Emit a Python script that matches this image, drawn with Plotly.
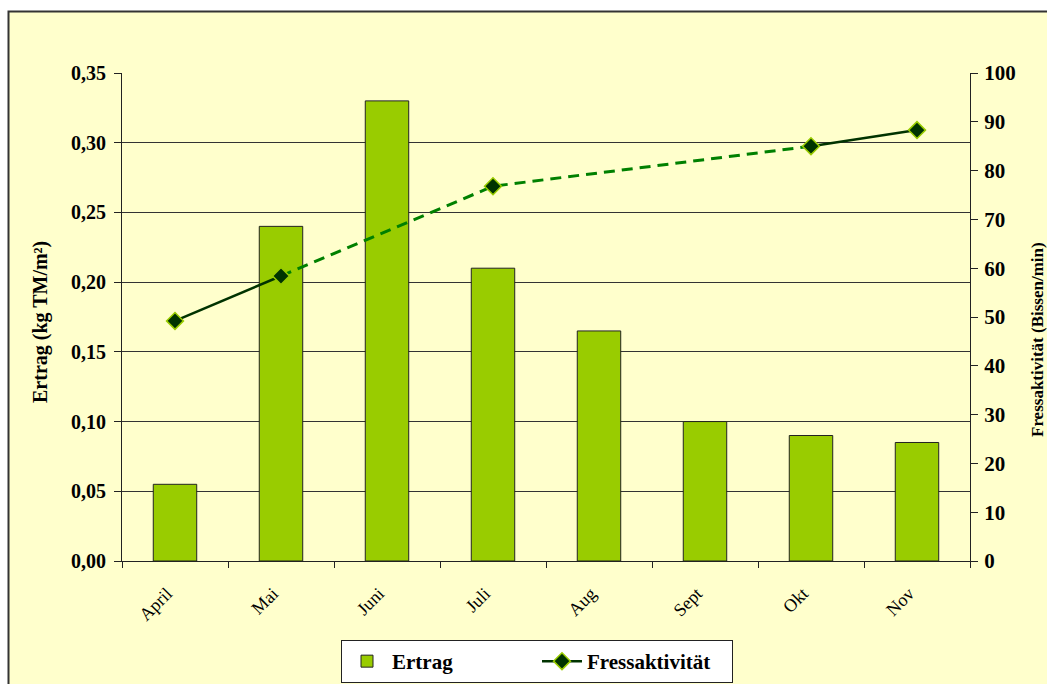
import plotly.graph_objects as go

months = ["April", "Mai", "Juni", "Juli", "Aug", "Sept", "Okt", "Nov"]
ertrag = [0.055, 0.24, 0.33, 0.21, 0.165, 0.10, 0.09, 0.085]
fress = [49.2, 58.4, None, 76.8, None, None, 85.0, 88.3]
left_ticks = [0, 0.05, 0.10, 0.15, 0.20, 0.25, 0.30, 0.35]
right_ticks = list(range(0, 101, 10))

# points bordering a gap get the dashed interpolated connection
dashed = []
for i, v in enumerate(fress):
    if v is None:
        dashed.append(None)
        continue
    prev_gap = i > 0 and fress[i - 1] is None
    next_gap = i < len(fress) - 1 and fress[i + 1] is None
    dashed.append(v if (prev_gap or next_gap) else None)

FONT = "Times New Roman, Liberation Serif, serif"

fig = go.Figure()
fig.add_trace(go.Bar(
    x=months, y=ertrag, name="Ertrag",
    marker=dict(color="#99CC00", line=dict(color="#222222", width=1)),
    yaxis="y",
))
fig.add_trace(go.Scatter(
    x=months, y=dashed, mode="lines", connectgaps=True, showlegend=False,
    line=dict(color="#008000", width=3, dash="11px,7px"), yaxis="y2", hoverinfo="skip",
))
fig.add_trace(go.Scatter(
    x=months, y=fress, mode="lines+markers", name="Fressaktivität", connectgaps=False,
    line=dict(color="#003300", width=2.5),
    marker=dict(symbol="diamond", size=13, color="#003300", line=dict(color="#99CC00", width=1.5)),
    yaxis="y2",
))

L, R, T, B = 122, 77, 73, 123
W, H = 1047, 684
pw, ph = W - L - R, H - T - B
def px(x):
    return (x - L) / pw
def py(y):
    return (H - B - y) / ph

fig.add_shape(type="rect", xref="paper", yref="paper",
              x0=px(8.5), x1=px(1070), y0=py(700), y1=py(11.5),
              fillcolor="#FFFFCC", line=dict(color="#333333", width=2), layer="below")

fig.add_annotation(text="<b>Ertrag (kg TM/m²)</b>", xref="paper", yref="paper",
                   x=px(40), y=py(322), textangle=-90, showarrow=False,
                   font=dict(size=20, family=FONT), xanchor="center", yanchor="middle")
fig.add_annotation(text="<b>Fressaktivität (Bissen/min)</b>", xref="paper", yref="paper",
                   x=px(1037), y=py(340), textangle=-90, showarrow=False,
                   font=dict(size=17, family=FONT), xanchor="center", yanchor="middle")

fig.update_layout(
    width=W, height=H,
    margin=dict(l=L, r=R, t=T, b=B, autoexpand=False),
    paper_bgcolor="white", plot_bgcolor="white",
    separators=",.",
    bargap=0.59,
    font=dict(family=FONT, color="black"),
    xaxis=dict(
        showgrid=False, showline=True, linecolor="#222222", linewidth=1,
        ticks="outside", tickson="boundaries", ticklen=6, tickcolor="#222222",
        tickangle=-45, tickfont=dict(size=18, family=FONT), automargin=False,
        ticklabelstandoff=14, ticklabelshift=-8,
    ),
    yaxis=dict(
        range=[0, 0.35], tickvals=left_ticks, tickformat=".2f",
        showgrid=True, gridcolor="#333333", gridwidth=1,
        showline=True, linecolor="#222222", linewidth=1,
        ticks="outside", ticklen=7, tickcolor="#222222",
        tickfont=dict(size=20, family=FONT, weight="bold"),
        ticklabelstandoff=4,
        zeroline=False, automargin=False,
    ),
    yaxis2=dict(
        range=[0, 100], tickvals=right_ticks, overlaying="y", side="right",
        showgrid=False, showline=True, linecolor="#222222", linewidth=1,
        ticks="outside", ticklen=7, tickcolor="#222222",
        tickfont=dict(size=21, family=FONT, weight="bold"),
        ticklabelstandoff=2,
        zeroline=False, automargin=False,
    ),
    legend=dict(
        orientation="h", x=px(537), xanchor="center", y=py(640), yanchor="top",
        bgcolor="white", bordercolor="#222222", borderwidth=1,
        font=dict(size=21, family=FONT, weight="bold"),
        itemwidth=40, entrywidth=140, entrywidthmode="pixels",
    ),
    showlegend=True,
)

fig.write_html("out.html")
